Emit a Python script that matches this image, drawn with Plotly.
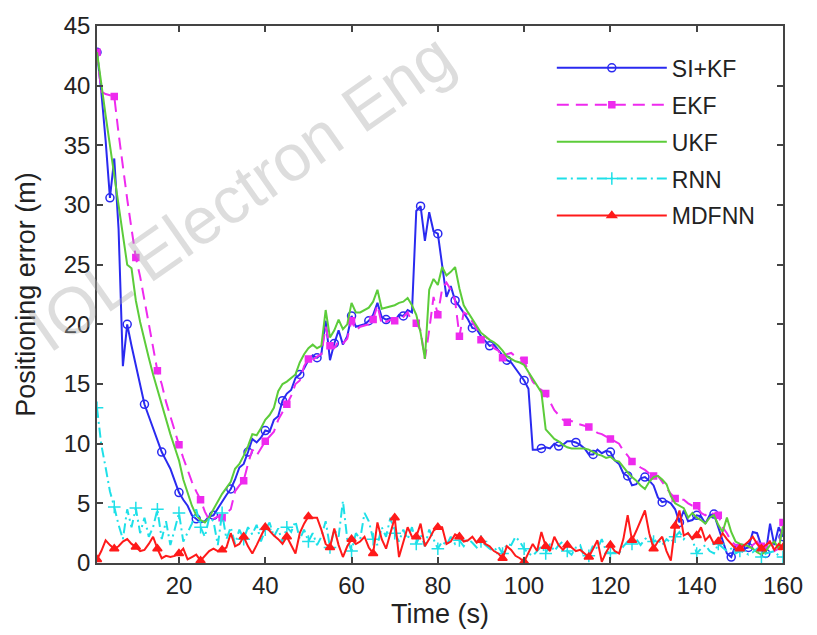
import plotly.graph_objects as go

time_s = list(range(1, 161))

si_kf = [42.8, 39.5, 35.4, 30.6, 33.9, 28.0, 16.5, 20.0, 18.2, 16.5, 14.8, 13.3, 12.3, 11.3, 10.3, 9.3,
         8.6, 7.9, 6.9, 5.9, 5.3, 4.8, 4.0, 3.7, 3.4, 3.5, 3.9, 4.0, 4.6, 5.2, 5.7, 6.2,
         7.0, 8.0, 8.3, 9.3, 10.4, 10.1, 10.5, 11.1, 11.0, 12.0, 12.3, 13.6, 14.2, 14.5, 15.5, 15.8,
         16.3, 17.0, 17.4, 17.2, 17.5, 20.3, 17.0, 18.4, 19.5, 18.3, 19.0, 20.7, 19.8, 19.9, 20.0, 20.3,
         20.8, 21.8, 20.6, 20.4, 20.5, 20.3, 20.8, 20.7, 21.2, 21.0, 29.5, 29.9, 27.0, 29.4, 27.8, 27.6,
         25.0, 22.3, 23.2, 22.0, 21.5, 21.0, 20.4, 19.7, 19.6, 19.0, 18.6, 18.2, 18.3, 17.8, 17.4, 17.0,
         16.8, 16.3, 15.8, 15.3, 14.6, 9.5, 9.5, 9.6, 9.7, 9.6, 10.0, 9.8, 9.9, 10.2, 10.2, 10.1,
         9.9, 9.6, 9.1, 9.1, 9.5, 9.2, 9.4, 9.3, 8.6, 8.3, 7.5, 7.3, 6.5, 6.6, 7.1, 7.2,
         6.9, 6.5, 5.5, 5.1, 5.2, 5.0, 4.5, 3.4, 4.4, 3.5, 3.6, 4.0, 3.9, 3.3, 4.0, 4.1,
         3.0, 1.8, 0.8, 0.5, 1.5, 1.4, 1.2, 1.3, 2.6, 2.5, 1.4, 0.8, 3.3, 1.5, 3.0, 2.2]

ekf = [42.8, 39.5, 39.3, 39.2, 39.1, 36.0, 33.0, 30.5, 28.0, 25.6, 24.0, 22.0, 20.0, 18.0, 16.1, 15.0,
       13.5, 12.3, 11.0, 9.9, 8.8, 7.8, 6.8, 6.0, 5.3, 4.3, 3.6, 3.7, 3.9, 3.8, 4.2, 4.5,
       6.0, 6.5, 6.9, 8.3, 9.5, 9.0, 9.6, 10.2, 10.6, 11.0, 12.0, 12.6, 13.3, 14.0, 15.0, 15.3,
       16.5, 17.1, 17.0, 17.3, 17.5, 19.8, 18.2, 18.0, 18.6, 18.4, 18.8, 20.3, 19.5, 19.8, 19.9, 20.0,
       20.4, 21.6, 20.0, 20.2, 20.4, 20.3, 20.5, 20.6, 21.0, 20.2, 20.1, 19.5, 17.1, 19.5, 22.3, 20.8,
       23.0, 23.5, 22.9, 22.0, 19.0, 21.0, 20.8, 20.2, 19.6, 18.7, 19.0, 18.6, 18.0, 17.8, 17.2, 17.5,
       17.6, 17.3, 17.2, 17.0, 16.0, 15.2, 14.8, 14.5, 14.2, 13.5, 12.8, 12.4, 12.0, 11.8, 11.9, 11.7,
       11.6, 11.5, 11.4, 11.2, 10.9, 10.8, 10.6, 10.4, 10.2, 10.0, 9.4, 9.0, 8.5, 8.3, 8.0, 7.8,
       7.5, 7.3, 7.3, 6.8, 6.2, 5.8, 5.4, 5.3, 5.3, 5.0, 4.8, 4.8, 4.2, 4.0, 4.3, 4.1,
       4.0, 3.0, 2.5, 1.8, 1.5, 1.3, 1.4, 1.2, 1.5, 1.8, 1.4, 1.2, 2.0, 1.0, 1.2, 3.4]

ukf = [42.8, 40.0, 37.5, 35.0, 32.5, 30.0, 27.5, 25.0, 24.7, 22.0, 20.2, 18.6, 17.2, 15.8, 14.5, 13.3,
       12.0, 10.8, 9.7, 8.6, 7.0, 5.8, 4.8, 4.0, 3.6, 3.4, 3.8, 4.5, 5.2, 5.8, 6.3, 6.8,
       7.9, 8.3, 9.0, 9.8, 10.8, 10.7, 11.3, 12.0, 12.4, 13.0, 14.4, 15.0, 15.2, 15.5, 15.8, 16.8,
       17.5, 18.0, 18.3, 18.0, 18.2, 21.2, 18.9, 19.5, 20.4, 19.6, 20.0, 21.8, 21.0, 21.0, 21.2, 21.4,
       21.9, 22.9, 21.3, 21.4, 21.5, 21.6, 21.8, 21.9, 22.2, 21.6, 20.8, 19.3, 17.1, 22.9, 23.8, 23.3,
       24.8, 24.1, 24.4, 24.8, 23.0, 21.6, 21.0, 20.4, 19.9, 19.3, 19.0, 18.7, 18.5, 18.2, 17.8, 17.3,
       17.1, 16.9, 16.8, 16.6, 16.0, 15.4, 14.8, 14.3, 11.2, 10.8, 10.4, 10.2, 9.9, 9.7, 9.6, 9.6,
       9.6, 9.6, 9.5, 9.3, 9.1, 9.0, 8.8, 8.9, 8.6, 8.5, 8.0, 7.6, 7.2, 6.9, 6.5, 6.2,
       6.8, 7.2, 7.3, 7.0, 6.6, 5.6, 5.0, 4.8, 4.6, 3.8, 4.2, 3.8, 3.6, 3.3, 3.8, 4.0,
       3.2, 2.6, 3.8, 2.6, 1.8, 1.6, 1.5, 1.4, 1.2, 0.9, 0.7, 1.0, 1.5, 1.8, 1.2, 3.1]

rnn = [13.0, 9.9, 8.0, 6.0, 4.7, 3.2, 2.0, 4.5, 3.0, 4.6, 2.5, 3.8, 2.2, 3.0, 4.5, 2.0,
       3.5, 1.5, 2.8, 4.2, 1.8, 2.5, 3.3, 4.5, 3.0, 2.2, 3.8, 3.5, 1.5, 4.2, 2.0, 3.0,
       1.6, 2.8, 2.0, 3.0, 2.4, 3.2, 1.8, 2.8, 3.4, 2.2, 2.9, 1.7, 3.0, 2.6, 3.5, 2.0,
       2.8, 1.8, 2.5, 1.5, 2.2, 3.5, 1.3, 2.8, 2.2, 5.2, 2.0, 1.0, 2.5, 2.0, 4.2, 3.5,
       2.0, 1.5, 3.0, 2.2, 3.8, 2.5, 1.8, 2.8, 2.0, 3.0, 1.6, 2.4, 1.4, 2.8, 2.0, 1.2,
       1.8, 1.5, 2.2, 1.6, 1.9, 1.4, 2.0, 1.7, 1.3, 1.8, 1.5, 1.2, 1.0, 1.4, 0.8, 1.6,
       1.5, 2.2, 1.8, 1.2, 0.8, 0.6, 1.0, 1.4, 0.8, 1.6, 1.0, 1.5, 1.8, 1.0, 0.7, 1.3,
       1.5, 0.4, 0.6, 1.5, 1.2, 2.0, 1.0, 0.8, 0.9, 0.8, 1.4, 1.8, 1.6, 2.0, 1.5, 2.0,
       2.3, 1.8, 2.0, 1.5, 2.0, 1.7, 2.2, 2.6, 2.0, 2.5, 2.0, 0.8, 1.2, 1.5, 1.0, 0.8,
       1.6, 1.3, 1.0, 1.2, 0.8, 1.0, 0.9, 0.7, 0.9, 1.2, 0.5, 0.8, 0.9, 1.0, 0.6, 0.5]

mdfnn = [0.3, 1.0, 1.9, 1.5, 1.2, 1.4, 1.8, 2.0, 1.6, 1.35, 1.0, 1.1, 1.6, 2.2, 1.2, 0.4,
         0.6, 0.5, 0.6, 0.8, 1.2, 0.3, 0.5, 0.7, 0.2, 0.6, 1.0, 1.2, 1.0, 1.1, 1.3, 2.5,
         1.4, 1.6, 2.2, 1.4, 0.8, 1.5, 2.2, 3.0, 2.7, 2.3, 2.0, 1.6, 2.2, 1.5, 0.8, 2.5,
         3.3, 3.9, 3.8, 3.8, 2.8, 1.6, 1.3, 2.9, 1.5, 0.5, 1.4, 2.0, 1.6, 1.8, 2.2, 1.3,
         0.8, 3.4, 2.0, 1.2, 2.6, 3.8, 0.5, 1.8, 3.0, 2.2, 2.2, 3.3, 1.4, 2.0, 2.7, 3.0,
         3.0, 1.6, 1.8, 2.4, 2.2, 1.8, 1.9, 2.2, 1.7, 1.9, 1.6, 1.4, 1.0, 0.8, 0.4, 1.4,
         1.1, 0.6, 0.4, 0.1, 0.8, 1.6, 1.0, 2.6, 1.4, 1.0, 2.2, 1.5, 1.1, 1.5, 1.3, 1.0,
         1.1, 0.8, 0.5, 1.2, 1.9, 0.1, 0.9, 1.5, 1.0, 0.8, 2.0, 4.0, 1.9, 2.7, 3.5, 4.4,
         2.5, 1.2, 1.8, 2.2, 1.0, 0.2, 3.1, 4.4, 2.3, 2.5, 2.0, 2.3, 3.0, 1.9, 2.3, 1.6,
         1.8, 2.5, 2.0, 1.6, 1.2, 1.2, 1.5, 1.8, 2.2, 1.6, 1.2, 1.5, 1.8, 1.1, 1.6, 1.3]

names = ["SI+KF", "EKF", "UKF", "RNN", "MDFNN"]
series = [si_kf, ekf, ukf, rnn, mdfnn]
colors = ["#2a2af0", "#ee2aee", "#5ccc3a", "#1ee0e8", "#ff1a1a"]
dashes = ["solid", "12px,7px", "solid", "10px,4px,2px,4px", "solid"]
symbols = ["circle-open", "square", None, "cross-thin-open", "triangle-up"]
msizes = [8, 6, 0, 9, 8]
mark_every = [4, 5, 0, 5, 5]

FONT = "Liberation Sans, Arial, sans-serif"

fig = go.Figure()
for i, (nm, ys) in enumerate(zip(names, series)):
    fig.add_trace(go.Scatter(x=time_s, y=ys, mode="lines", name=nm, legendgroup=nm,
                             showlegend=False,
                             line=dict(color=colors[i], width=2, dash=dashes[i])))
    if symbols[i]:
        idx = [0] + [k for k in range(len(time_s)) if time_s[k] % mark_every[i] == 0]
        fig.add_trace(go.Scatter(x=[time_s[k] for k in idx], y=[ys[k] for k in idx],
                                 mode="markers", legendgroup=nm, showlegend=False,
                                 marker=dict(symbol=symbols[i], size=msizes[i], color=colors[i],
                                             line=dict(color=colors[i], width=1.5))))
for i, nm in enumerate(names):
    mk = dict(symbol=symbols[i], size=msizes[i], color=colors[i],
              line=dict(color=colors[i], width=1.5)) if symbols[i] else None
    fig.add_trace(go.Scatter(x=[None], y=[None], name=nm, legendgroup=nm,
                             mode="lines+markers" if symbols[i] else "lines",
                             line=dict(color=colors[i], width=2, dash=dashes[i]),
                             marker=mk))

axis_common = dict(showline=True, linecolor="#444", linewidth=1.5, mirror="allticks",
                   ticks="inside", ticklen=6, tickcolor="#444", tickwidth=1.5,
                   showgrid=False, zeroline=False,
                   tickfont=dict(family=FONT, size=24, color="#222"))

fig.update_layout(
    width=817, height=635,
    margin=dict(l=97, r=34, t=19, b=72),
    paper_bgcolor="white", plot_bgcolor="white",
    font=dict(family=FONT, color="#222"),
    xaxis=dict(range=[1, 160], tickvals=[20, 40, 60, 80, 100, 120, 140, 160],
               title=dict(text="Time (s)", font=dict(family=FONT, size=27), standoff=2),
               **axis_common),
    yaxis=dict(range=[0, 45], tickvals=[0, 5, 10, 15, 20, 25, 30, 35, 40, 45],
               title=dict(text="Positioning error (m)", font=dict(family=FONT, size=27), standoff=20),
               **axis_common),
    legend=dict(x=0.663, y=0.962, xanchor="left", yanchor="top", bgcolor="rgba(255,255,255,0)",
                font=dict(family=FONT, size=23, color="#222"), tracegroupgap=4,
                itemwidth=110),
    annotations=[dict(text="IOL Electron Eng", xref="paper", yref="paper", x=0.21, y=0.69,
                      xanchor="center", yanchor="middle",
                      showarrow=False, textangle=-35,
                      font=dict(family=FONT, size=66, color="rgba(170,170,170,0.4)"))],
)

fig.write_html("out.html")
